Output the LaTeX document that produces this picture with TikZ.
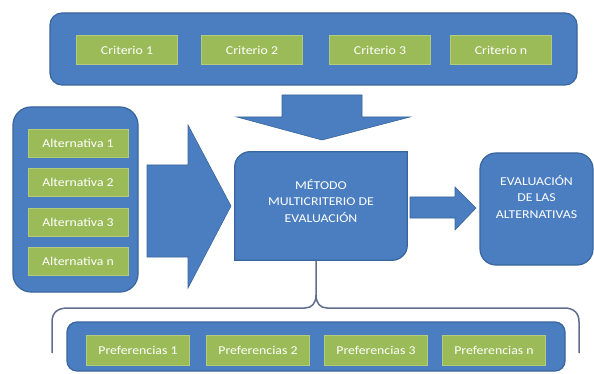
\documentclass[tikz,border=0pt]{standalone}
\usepackage{fontspec}
\setmainfont{Carlito}
\usepackage{graphicx}
\definecolor{blueF}{HTML}{4A7EC0}
\definecolor{blueD}{HTML}{3A659C}
\definecolor{greenF}{HTML}{9BBB59}
\definecolor{greenL}{HTML}{B3CC7A}
\definecolor{brk}{HTML}{5E6E8C}
\newcommand{\sx}[1]{\scalebox{1.15}[1]{#1}}
\tikzset{
  container/.style={draw=blueD, fill=blueF, line width=1.2pt, inner sep=0pt},
  gbox/.style={fill=greenF, draw=greenL, line width=0.8pt, inner sep=0pt,
    text=white, font=\fontsize{12}{14}\selectfont},
  wtext/.style={text=white, align=center, inner sep=0pt,
    font=\fontsize{12}{16.5}\selectfont},
  blockarrow/.style={fill=blueF, draw=blueD, line width=0.6pt, line join=miter},
  brace/.style={draw=brk, line width=1.5pt}
}
\begin{document}
\begin{tikzpicture}[x=1pt,y=-1pt]
\useasboundingbox[fill=white] (0,0) rectangle (594,374);

% top container with criteria
\node[container, rounded corners=12pt, minimum width=527pt, minimum height=72pt] (top) at (313.5,49) {};
\foreach \i/\x/\t in {1/127/Criterio 1, 2/252/Criterio 2, 3/380/Criterio 3, 4/501/Criterio n}
  \node[gbox, minimum width=101pt, minimum height=29pt] (c\i) at (\x,50) {\sx{\t}};

% left container with alternatives
\node[container, rounded corners=18pt, minimum width=125pt, minimum height=185pt] (left) at (75.5,199.5) {};
\foreach \i/\y/\t in {1/143/Alternativa 1, 2/182/Alternativa 2, 3/222/Alternativa 3, 4/261/Alternativa n}
  \node[gbox, minimum width=100pt, minimum height=28pt] (a\i) at (78,\y) {\sx{\t}};

% central method box (diagonal rounded corners)
\node[minimum width=172pt, minimum height=108pt, inner sep=0pt] (met) at (321,206) {};
\path[container] (met.south west) -- ([yshift=-14pt]met.north west)
  .. controls ([yshift=-6.27pt]met.north west) and ([xshift=7.73pt]met.north west) .. ([xshift=14pt]met.north west)
  -- (met.north east) -- ([yshift=14pt]met.south east)
  .. controls ([yshift=6.27pt]met.south east) and ([xshift=-7.73pt]met.south east) .. ([xshift=-14pt]met.south east)
  -- cycle;
\node[wtext, anchor=north] (mett) at (321,179) {\sx{MÉTODO}\\\sx{MULTICRITERIO DE}\\\sx{EVALUACIÓN}};

% evaluation box
\node[container, rounded corners=16pt, minimum width=113pt, minimum height=112pt] (eva) at (536.5,209) {};
\node[wtext, anchor=north] (evat) at (536.5,175) {\sx{EVALUACIÓN}\\\sx{DE LAS}\\\sx{ALTERNATIVAS}};

% bottom container with preferences
\node[container, rounded corners=10pt, minimum width=498pt, minimum height=49pt] (bot) at (316,346.5) {};
\foreach \i/\x/\t in {1/138/Preferencias 1, 2/258/Preferencias 2, 3/376/Preferencias 3, 4/494/Preferencias n}
  \node[gbox, minimum width=103pt, minimum height=30pt] (p\i) at (\x,350) {\sx{\t}};

% block arrows
\path[blockarrow] (282,95) -- (362,95) -- (362,117) -- (410,117) -- (322,140) -- (237,117) -- (282,117) -- cycle;
\path[blockarrow] (147,165) -- (188,165) -- (188,125) -- (231,206) -- (188,288) -- (188,257) -- (147,257) -- cycle;
\path[blockarrow] (410,197) -- (455,197) -- (455,187) -- (476,208) -- (455,230) -- (455,218) -- (410,218) -- cycle;

% brace from the method box to the preferences
\coordinate (bt) at (316,260);
\coordinate (bl) at (52,353);
\coordinate (br) at (579,353);
\draw[brace] (bl) -- (52,322) .. controls (52,312) and (58,308) .. (68,308)
  -- (305,308) .. controls (312,308) and (316,303) .. (316,295) -- (bt);
\draw[brace] (316,295) .. controls (316,303) and (320,308) .. (327,308)
  -- (564,308) .. controls (574,308) and (579,313) .. (579,322) -- (br);
\end{tikzpicture}
\end{document}
